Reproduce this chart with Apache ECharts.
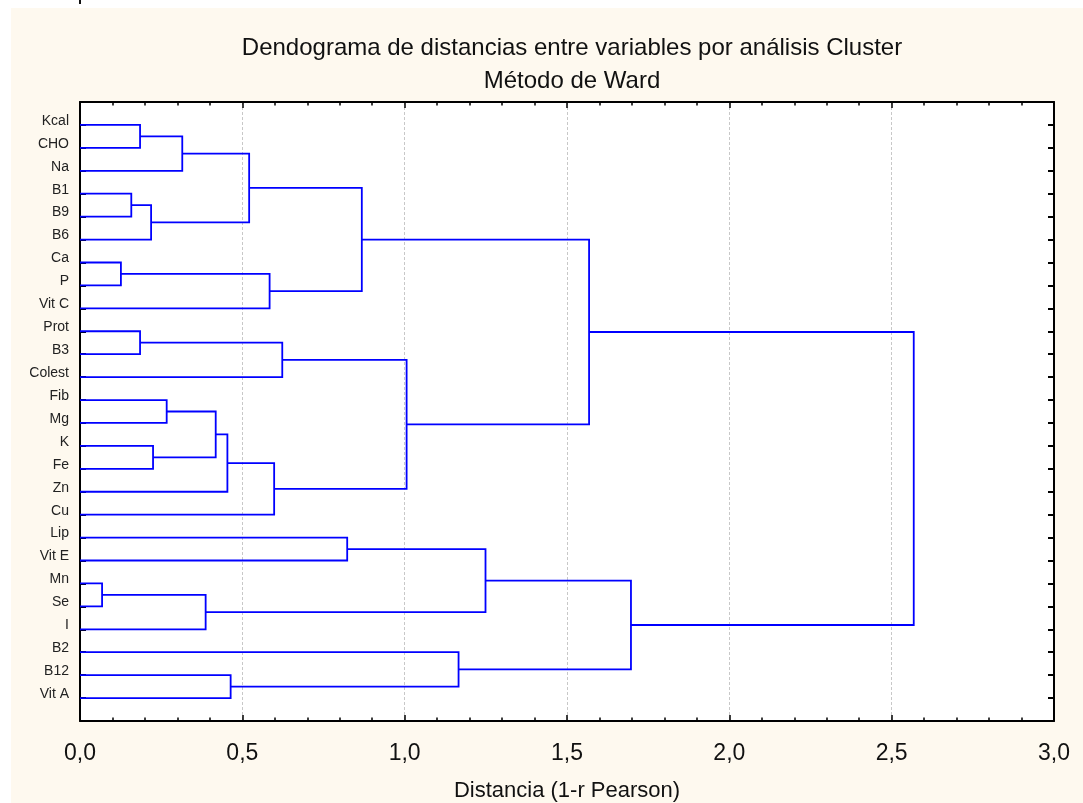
<!DOCTYPE html>
<html>
<head>
<meta charset="utf-8">
<script src="https://cdn.jsdelivr.net/npm/echarts@6/dist/echarts.min.js"></script>
<style>
  html, body { margin: 0; padding: 0; background: #ffffff; }
  #wrap { position: relative; width: 1083px; height: 803px; overflow: hidden; }
  #paper { position: absolute; left: 11px; top: 8px; right: 0; bottom: 0; background: #fef9ef; }
  #chart { position: absolute; left: 0; top: 0; width: 1083px; height: 803px; }
</style>
</head>
<body>
<div id="wrap">
  <div id="paper"></div>
  <div id="chart"></div>
</div>
<script>
// Variables, listed top to bottom in dendrogram leaf order
const labels = ['Kcal', 'CHO', 'Na', 'B1', 'B9', 'B6', 'Ca', 'P', 'Vit C', 'Prot', 'B3', 'Colest',
  'Fib', 'Mg', 'K', 'Fe', 'Zn', 'Cu', 'Lip', 'Vit E', 'Mn', 'Se', 'I', 'B2', 'B12', 'Vit A'];

// Ward linkage steps: members joined (a leaf name, or 'c<n>' for the cluster built at step n)
const mergeA = ['Kcal', 'c0', 'B1', 'c2', 'c1', 'Ca', 'c5', 'c4', 'Prot', 'c8', 'Fib', 'K', 'c10',
  'c12', 'c13', 'c9', 'c7', 'Lip', 'Mn', 'c18', 'c17', 'B12', 'B2', 'c20', 'c16'];
const mergeB = ['CHO', 'Na', 'B9', 'B6', 'c3', 'P', 'Vit C', 'c6', 'B3', 'Colest', 'Mg', 'Fe', 'c11',
  'Zn', 'Cu', 'c14', 'c15', 'Vit E', 'Se', 'I', 'c19', 'Vit A', 'c21', 'c22', 'c23'];
// Linkage distance (1 - Pearson r) at each step
const mergeHeight = [0.185, 0.315, 0.158, 0.219, 0.521, 0.126, 0.584, 0.868, 0.185, 0.623, 0.267, 0.225, 0.418,
  0.454, 0.598, 1.006, 1.568, 0.823, 0.068, 0.387, 1.249, 0.464, 1.166, 1.697, 2.568];

const xTickLabels = ['0,0', '0,5', '1,0', '1,5', '2,0', '2,5', '3,0'];

// Resolve each member to its row position and joining height
const nodes = {};
labels.forEach((name, i) => { nodes[name] = { pos: i + 1, h: 0 }; });
const links = [];
mergeHeight.forEach((h, i) => {
  const a = nodes[mergeA[i]], b = nodes[mergeB[i]];
  links.push([a.h, a.pos, h, b.pos, b.h]);
  nodes['c' + i] = { pos: (a.pos + b.pos) / 2, h: h };
});

const sans = "'Liberation Sans', Arial, sans-serif";

const frameLine = { show: true, onZero: false, lineStyle: { color: '#000', width: 2 } };
const xTick = { show: true, inside: true, length: 6, lineStyle: { color: '#000', width: 1.5 } };
const xMinor = { show: true, splitNumber: 5, length: 3.5, lineStyle: { color: '#000', width: 1.5 } };
const yTick = { show: true, inside: true, length: 6, lineStyle: { color: '#000', width: 2 } };

const chart = echarts.init(document.getElementById('chart'), null, { renderer: 'canvas' });
chart.setOption({
  backgroundColor: 'transparent',
  animation: false,
  title: [
    {
      text: 'Dendograma de distancias entre variables por análisis Cluster',
      left: 567, top: 31, textAlign: 'center',
      textStyle: { fontFamily: sans, fontSize: 24, fontWeight: 'normal', color: '#111' }
    },
    {
      text: 'Método de Ward',
      left: 567, top: 64, textAlign: 'center',
      textStyle: { fontFamily: sans, fontSize: 24, fontWeight: 'normal', color: '#111' }
    }
  ],
  graphic: [
    { type: 'rect', left: 79, top: 0, shape: { width: 2, height: 4 }, style: { fill: '#111' } }
  ],
  grid: {
    left: 80, top: 102, right: 29, bottom: 82,
    outerBoundsMode: 'none', containLabel: false,
    show: true, backgroundColor: '#ffffff', borderWidth: 0
  },
  xAxis: [
    {
      type: 'value', position: 'bottom', min: 0, max: 3, interval: 0.5,
      axisLine: frameLine, axisTick: xTick, minorTick: xMinor,
      splitLine: { show: true, lineStyle: { color: '#c8c8c8', width: 1, type: [3, 2] } },
      axisLabel: {
        margin: 21, fontFamily: sans, fontSize: 23, color: '#111',
        formatter: v => xTickLabels[Math.round(v / 0.5)]
      },
      name: 'Distancia (1-r Pearson)', nameLocation: 'middle', nameGap: 59,
      nameTextStyle: { fontFamily: sans, fontSize: 22, color: '#111' }
    },
    {
      type: 'value', position: 'top', min: 0, max: 3, interval: 0.5,
      axisLine: frameLine, axisTick: xTick, minorTick: xMinor,
      splitLine: { show: false },
      axisLabel: { show: false }
    }
  ],
  yAxis: [
    {
      type: 'value', position: 'left', inverse: true, min: 0, max: labels.length + 1, interval: 1,
      axisLine: frameLine, axisTick: yTick,
      splitLine: { show: false },
      axisLabel: {
        margin: 11, fontFamily: sans, fontSize: 14, color: '#222',
        verticalAlign: 'bottom', lineHeight: 8,
        formatter: v => labels[v - 1] || ''
      }
    },
    {
      type: 'value', position: 'right', inverse: true, min: 0, max: labels.length + 1, interval: 1,
      axisLine: frameLine, axisTick: yTick,
      splitLine: { show: false },
      axisLabel: { show: false }
    }
  ],
  series: [{
    type: 'custom',
    xAxisIndex: 0, yAxisIndex: 0,
    data: links,
    encode: { x: [0, 2, 4], y: [1, 3] },
    renderItem: (params, api) => {
      const pts = [
        api.coord([api.value(0), api.value(1)]),
        api.coord([api.value(2), api.value(1)]),
        api.coord([api.value(2), api.value(3)]),
        api.coord([api.value(4), api.value(3)])
      ];
      return {
        type: 'polyline',
        shape: { points: pts },
        style: { stroke: '#0000ff', lineWidth: 1.8, fill: null }
      };
    }
  }]
});
</script>
</body>
</html>
